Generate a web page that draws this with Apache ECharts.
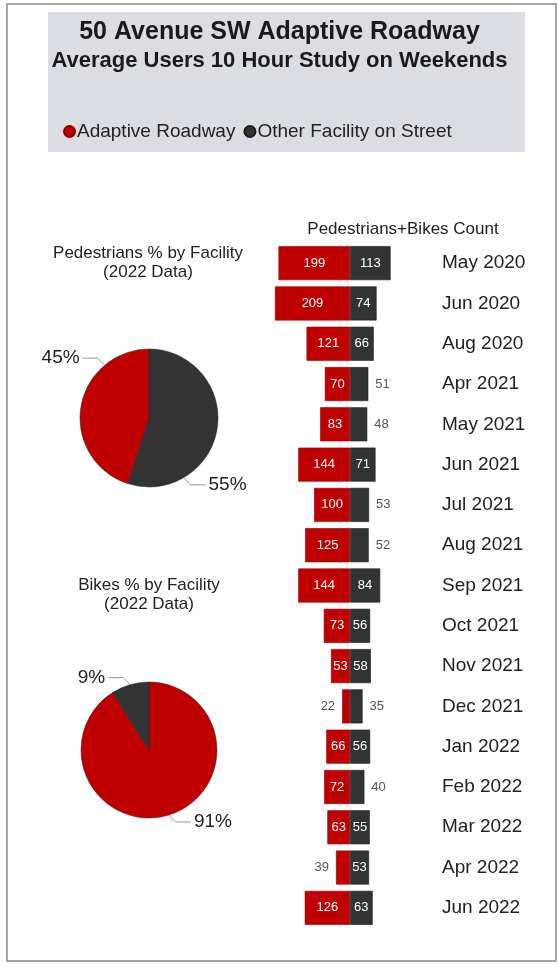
<!DOCTYPE html>
<html><head><meta charset="utf-8">
<script src="https://cdn.jsdelivr.net/npm/echarts@6/dist/echarts.min.js"></script>
<style>html,body{margin:0;padding:0;background:#fff}#c{width:559px;height:964px}</style>
</head><body><div id="c"></div>
<script>
// ---- data ----
const months = ['May 2020','Jun 2020','Aug 2020','Apr 2021','May 2021','Jun 2021','Jul 2021','Aug 2021','Sep 2021','Oct 2021','Nov 2021','Dec 2021','Jan 2022','Feb 2022','Mar 2022','Apr 2022','Jun 2022'];
const adaptive = [199,209,121,70,83,144,100,125,144,73,53,22,66,72,63,39,126];
const other    = [113,74,66,51,48,71,53,52,84,56,58,35,56,40,55,53,63];
const seriesNames = ['Adaptive Roadway','Other Facility on Street'];
const pedShares  = [45, 55];   // Adaptive, Other
const bikeShares = [91, 9];    // Adaptive, Other

// ---- style ----
const RED = '#c00000', DARK = '#333333';
const FONT = 'Liberation Sans, Arial, sans-serif';
const adaptiveOutside = [11, 15];
const otherOutside = [3, 4, 6, 7, 11, 13];
const pie1 = {c:[149,418], r:69};
const pie2 = {c:[149,750], r:68};
// label angle (deg) per data name, per pie
const pieLabelAngles = [
  {'Other Facility on Street': -60, 'Adaptive Roadway': 130},
  {'Adaptive Roadway': -73, 'Other Facility on Street': 106}
];

const chart = echarts.init(document.getElementById('c'), null, {renderer:'canvas'});

function makePieLayout(pieIdx, pie, names){
  return function(params){
    const name = names[params.dataIndex];
    const a = pieLabelAngles[pieIdx][name] * Math.PI / 180;
    const ex = pie.c[0] + pie.r * Math.cos(a), ey = pie.c[1] - pie.r * Math.sin(a);
    const dir = Math.cos(a) >= 0 ? 1 : -1;
    const vdir = Math.sin(a) >= 0 ? -1 : 1;
    const mx = ex + dir * 7, my = ey + vdir * 7;
    const lx = mx + dir * 15;
    return {
      x: lx + dir * 3, y: my,
      align: dir > 0 ? 'left' : 'right', verticalAlign: 'middle',
      labelLinePoints: [[ex, ey], [mx, my], [lx, my]]
    };
  };
}

function pieData(shares, order){
  return order.map(i => ({name: seriesNames[i], value: shares[i], itemStyle:{color: i===0?RED:DARK}}));
}
const pedOrder = [1,0], bikeOrder = [0,1];
const pedNames = pedOrder.map(i=>seriesNames[i]);
const bikeNames = bikeOrder.map(i=>seriesNames[i]);

const pieLabel = {show:true, position:'outside', formatter:'{c}%', fontSize:19, color:'#222', fontFamily:FONT, overflow:'none', width:80};

const option = {
  animation:false,
  backgroundColor:'#fff',
  textStyle:{fontFamily:FONT},
  graphic:[
    {type:'rect', z:-10, shape:{x:7,y:4,width:549,height:957}, style:{fill:'#fff', stroke:'#8a8a8a', lineWidth:1.5}},
    {type:'rect', z:-9, shape:{x:48,y:12,width:477,height:140}, style:{fill:'#dcdde2'}},
    {type:'text', left:'center', top:20, style:{text:'50 Avenue SW Adaptive Roadway', font:'bold 25px '+FONT, fill:'#1a1a1a'}},
    {type:'text', left:'center', top:50, style:{text:'Average Users 10 Hour Study on Weekends', font:'bold 22px '+FONT, fill:'#1a1a1a'}},
    {type:'text', x:148, y:244, style:{text:'Pedestrians % by Facility\n(2022 Data)', font:'17px '+FONT, fill:'#222', align:'center', lineHeight:19}},
    {type:'text', x:149, y:576, style:{text:'Bikes % by Facility\n(2022 Data)', font:'17px '+FONT, fill:'#222', align:'center', lineHeight:19}},
    {type:'text', x:403, y:221, style:{text:'Pedestrians+Bikes Count', font:'17px '+FONT, fill:'#222', align:'center'}}
  ],
  legend:{
    data:seriesNames, left:58, top:117, icon:'circle', itemWidth:11, itemHeight:11, itemGap:8,
    textStyle:{fontSize:19, color:'#222', fontFamily:FONT, padding:[0,0,0,-3]}
  },
  grid:{left:271, width:158, top:243, height:685},
  xAxis:{type:'value', min:-220, max:220, show:false},
  yAxis:{type:'category', data:months, inverse:true, position:'right',
    axisLine:{show:false}, axisTick:{show:false},
    axisLabel:{margin:13, fontSize:19, color:'#222', fontFamily:FONT, align:'left'}},
  series:[
    {type:'bar', name:seriesNames[0], barWidth:34, barGap:'-100%',
     itemStyle:{color:RED, borderColor:'#8a0000', borderWidth:0.6},
     label:{show:true, position:'inside', color:'#fff', fontSize:13, fontFamily:FONT,
       formatter:p=>Math.abs(p.value)},
     data:adaptive.map((v,i)=> adaptiveOutside.includes(i)
       ? {value:-v, label:{position:'left', color:'#555', distance:7}} : -v)},
    {type:'bar', name:seriesNames[1], barWidth:34, barGap:'-100%',
     itemStyle:{color:DARK, borderColor:'#1a1a1a', borderWidth:0.6},
     label:{show:true, position:'inside', color:'#fff', fontSize:13, fontFamily:FONT,
       formatter:p=>Math.abs(p.value)},
     data:other.map((v,i)=> otherOutside.includes(i)
       ? {value:v, label:{position:'right', color:'#555', distance:7}} : v)},
    {type:'pie', name:'ped', center:pie1.c, radius:pie1.r, startAngle:90, clockwise:true,
     data:pieData(pedShares, pedOrder),
     itemStyle:{borderColor:'#222', borderWidth:0.5},
     label:pieLabel,
     labelLine:{show:true, lineStyle:{color:'#999', width:1}},
     labelLayout:makePieLayout(0, pie1, pedNames)},
    {type:'pie', name:'bike', center:pie2.c, radius:pie2.r, startAngle:90, clockwise:true,
     data:pieData(bikeShares, bikeOrder),
     itemStyle:{borderColor:'#222', borderWidth:0.5},
     label:pieLabel,
     labelLine:{show:true, lineStyle:{color:'#999', width:1}},
     labelLayout:makePieLayout(1, pie2, bikeNames)}
  ]
};
chart.setOption(option);
</script></body></html>
